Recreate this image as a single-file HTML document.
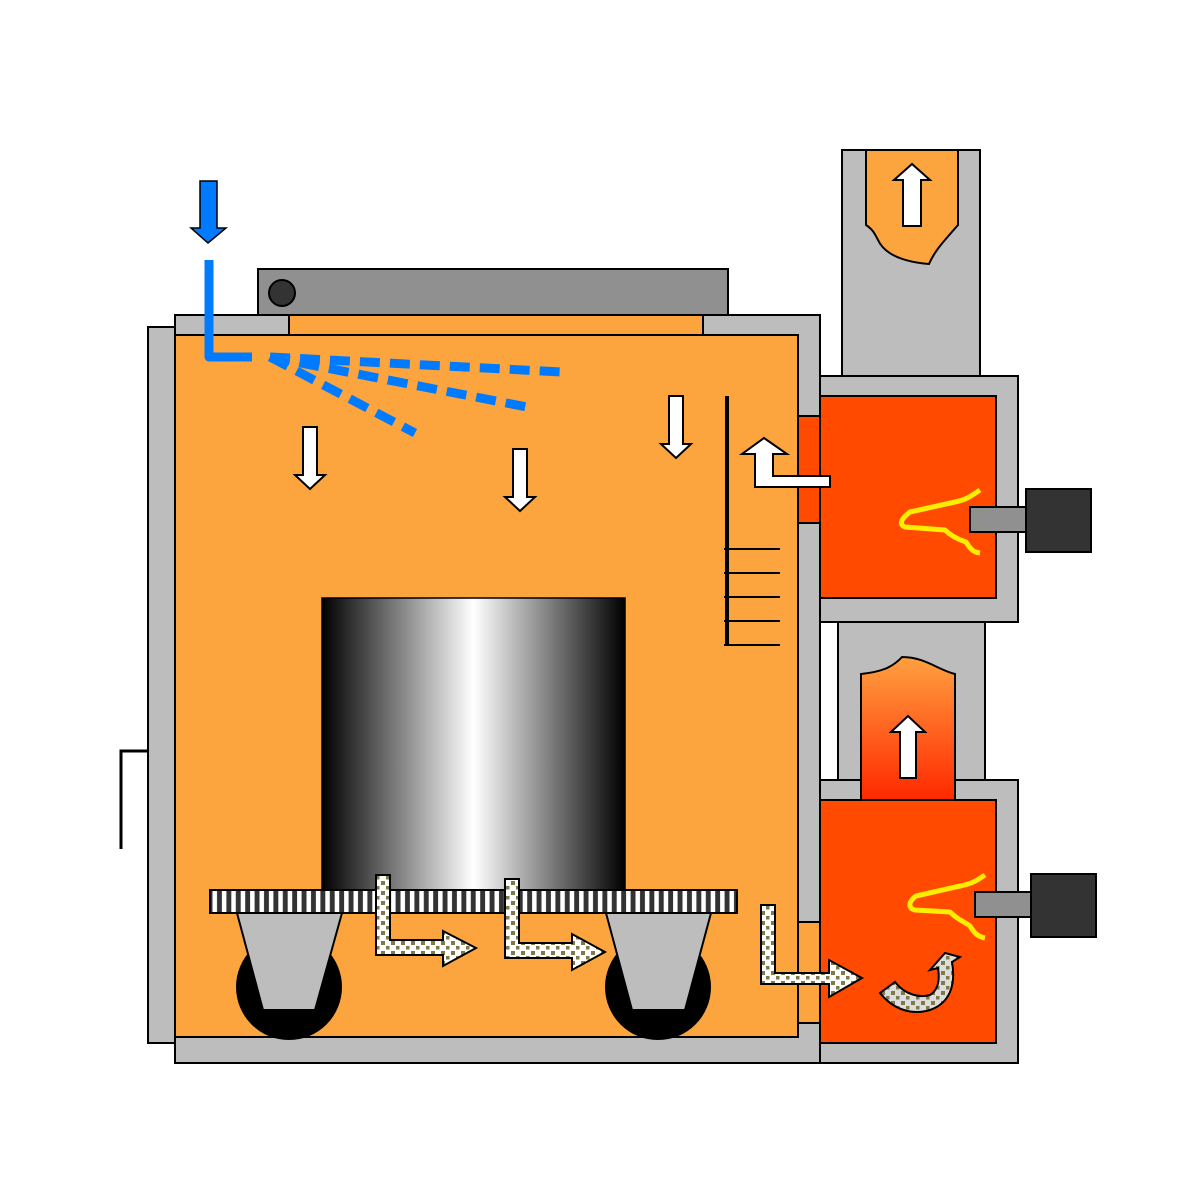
<!DOCTYPE html>
<html><head><meta charset="utf-8"><style>html,body{margin:0;padding:0;background:#fff}svg{display:block}</style></head>
<body>
<svg width="1200" height="1200" viewBox="0 0 1200 1200" xmlns="http://www.w3.org/2000/svg">
<defs>
<linearGradient id="cyl" x1="0" x2="1" y1="0" y2="0">
<stop offset="0" stop-color="#000"/><stop offset="0.5" stop-color="#fff"/><stop offset="1" stop-color="#000"/>
</linearGradient>
<linearGradient id="flame" x1="0" x2="0" y1="0" y2="1">
<stop offset="0" stop-color="#ffa040"/><stop offset="1" stop-color="#ff2800"/>
</linearGradient>
<pattern id="grate" x="210" y="0" width="9.4" height="30" patternUnits="userSpaceOnUse">
<rect width="9.4" height="30" fill="#333"/><rect x="2.5" width="4.5" height="30" fill="#fff"/>
</pattern>
<pattern id="ash" width="10" height="10" patternUnits="userSpaceOnUse">
<rect width="10" height="10" fill="#fff"/><rect x="1" y="1" width="4" height="4" fill="#7f7a4a"/><rect x="6" y="6" width="3.5" height="3.5" fill="#7f7a4a"/>
</pattern>
<pattern id="ash2" width="10" height="10" patternUnits="userSpaceOnUse">
<rect width="10" height="10" fill="#ddd"/><rect x="1" y="1" width="4" height="4" fill="#7f7a4a"/><rect x="6" y="6" width="3.5" height="3.5" fill="#7f7a4a"/>
</pattern>
</defs>
<g stroke="#000" stroke-width="2">
<rect x="842" y="150" width="138" height="228" fill="#bdbdbd"/>
<path d="M866,150 H958 V225 C945,240 935,250 929,264 C905,262 885,255 878,240 C874,232 872,229 866,225 Z" fill="#fca53f"/>
<path d="M903,226 V180 H894 L912,164 L930,180 H921 V226 Z" fill="#fff"/>
<rect x="258" y="269" width="470" height="46" fill="#909090"/>
<circle cx="282" cy="293" r="13" fill="#333"/>
<rect x="148" y="327" width="27" height="716" fill="#bdbdbd"/>
<rect x="175" y="315" width="645" height="748" fill="#bdbdbd"/>
<rect x="289" y="315" width="414" height="20" fill="#fca53f"/>
<rect x="175" y="335" width="623" height="702" fill="#fca53f"/>
<rect x="798" y="416" width="22" height="107" fill="#ff4a00"/>
<rect x="798" y="922" width="22" height="101" fill="#fca53f"/>
<rect x="838" y="620" width="147" height="162" fill="#bdbdbd"/>
<rect x="820" y="376" width="198" height="246" fill="#bdbdbd"/>
<rect x="820" y="396" width="176" height="202" fill="#ff4a00"/>
<rect x="970" y="507" width="56" height="25" fill="#909090"/>
<rect x="1026" y="489" width="65" height="63" fill="#333"/>
<rect x="820" y="780" width="198" height="283" fill="#bdbdbd"/>
<path d="M861,800 V674 C880,672 892,668 902,657 C925,657 938,670 955,674 V800 Z" fill="url(#flame)"/>
<rect x="820" y="800" width="176" height="243" fill="#ff4a00"/>
<path d="M900,778 V732 H891 L908,716 L925,732 H916 V778 Z" fill="#fff"/>
<rect x="975" y="892" width="56" height="25" fill="#909090"/>
<rect x="1031" y="874" width="65" height="63" fill="#333"/>
</g>
<g fill="none" stroke="#ffee00" stroke-width="5" stroke-linejoin="round">
<path d="M980,490 C970,497 965,500 955,502 L910,512 C902,518 898,524 905,527 L945,530 C952,537 960,540 966,542 C970,548 972,552 980,553"/>
<path d="M985,875 C975,882 970,884 960,886 L916,896 C908,902 908,908 915,910 L950,912 C958,920 965,922 970,926 C974,932 976,936 985,938"/>
</g>
<path d="M121,849 V751 H148" fill="none" stroke="#000" stroke-width="3"/>
<rect x="322" y="598" width="303" height="292" fill="url(#cyl)" stroke="#000" stroke-width="1.5"/>
<circle cx="289" cy="987" r="53" fill="#000"/>
<circle cx="658" cy="987" r="53" fill="#000"/>
<g stroke="#000" stroke-width="2">
<path d="M237,913 H342 L315,1010 H263 Z" fill="#bdbdbd"/>
<path d="M606,913 H711 L685,1010 H632 Z" fill="#bdbdbd"/>
<rect x="210" y="890" width="527" height="23" fill="url(#grate)"/>
</g>
<g stroke="#000" stroke-width="2" fill="url(#ash)">
<path d="M376,875 H390 V940 H443 V931 L476,948 L443,966 V955 H376 Z"/>
<path d="M505,879 H519 V943 H572 V934 L605,952 L572,970 V958 H505 Z"/>
<path d="M761,905 H775 V973 H829 V960 L862,978 L829,997 V984 H761 Z"/>
<path d="M880,993 L895,982 C905,995 920,998 930,995 C938,990 940,980 938,968 L930,970 L945,953 L960,957 L952,962 C956,985 950,1003 930,1010 C910,1016 892,1008 880,993 Z" fill="url(#ash2)"/>
</g>
<g stroke="#000">
<line x1="727" y1="396" x2="727" y2="646" stroke-width="4"/>
<g stroke-width="2">
<line x1="724" y1="549" x2="780" y2="549"/><line x1="724" y1="573" x2="780" y2="573"/>
<line x1="724" y1="597" x2="780" y2="597"/><line x1="724" y1="621" x2="780" y2="621"/>
<line x1="724" y1="645" x2="780" y2="645"/>
</g>
</g>
<g stroke="#000" stroke-width="2" fill="#fff">
<path d="M303,427 H317 V475 H325 L310,489 L295,475 H303 Z"/>
<path d="M513,449 H527 V497 H535 L520,511 L505,497 H513 Z"/>
<path d="M669,396 H683 V444 H691 L676,458 L661,444 H669 Z"/>
<path d="M755,487 V454 H742 L764,438 L787,454 H773 V476 H830 V487 Z"/>
</g>
<path d="M200,181 H217 V228 H226 L208,243 L191,228 H200 Z" fill="#007bff" stroke="#000" stroke-width="1.5"/>
<path d="M209,260 V357 H252" fill="none" stroke="#007bff" stroke-width="9" stroke-linejoin="round"/>
<g stroke="#007bff" stroke-width="9" fill="none" stroke-dasharray="20 10">
<path d="M270,357 L562,372"/>
<path d="M270,357 L532,408"/>
<path d="M270,357 L415,433"/>
</g>
</svg>
</body></html>
